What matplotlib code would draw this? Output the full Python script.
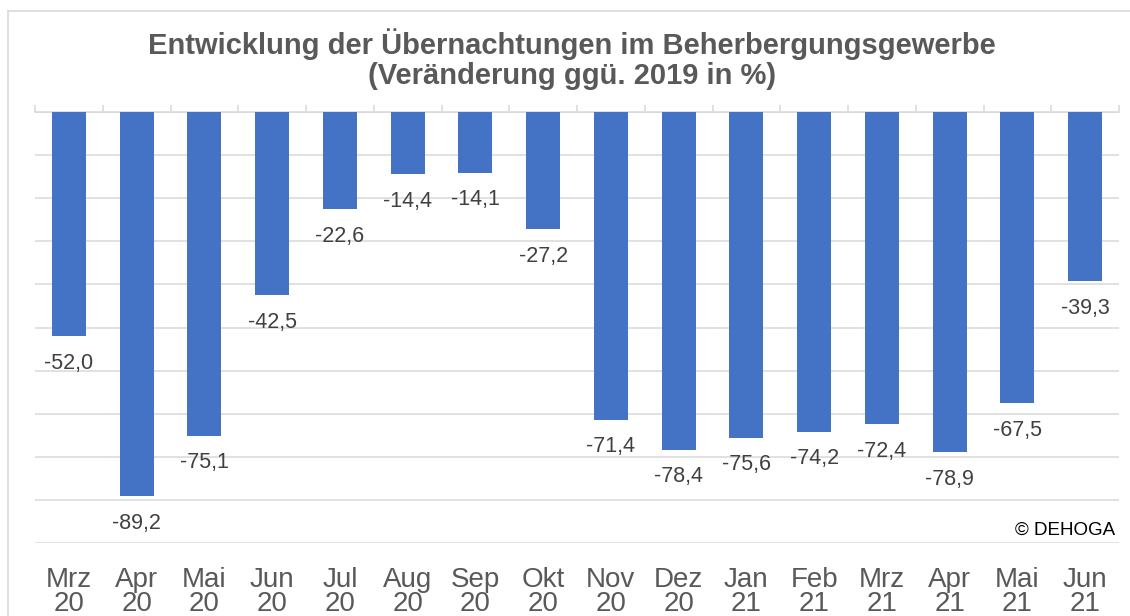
import numpy as np
import matplotlib
matplotlib.use("Agg")
import matplotlib.pyplot as plt
from matplotlib.lines import Line2D
from matplotlib.ticker import FixedLocator

plt.rcParams['font.family'] = ['Liberation Sans', 'DejaVu Sans']

# Monate und Veraenderung ggue. 2019 in %
months = ["Mrz\n20", "Apr\n20", "Mai\n20", "Jun\n20", "Jul\n20", "Aug\n20", "Sep\n20", "Okt\n20",
          "Nov\n20", "Dez\n20", "Jan\n21", "Feb\n21", "Mrz\n21", "Apr\n21", "Mai\n21", "Jun\n21"]
change = [-52.0, -89.2, -75.1, -42.5, -22.6, -14.4, -14.1, -27.2,
          -71.4, -78.4, -75.6, -74.2, -72.4, -78.9, -67.5, -39.3]

bar_color = "#4472C4"
grid_color = "#D9D9D9"

fig = plt.figure(figsize=(11.3, 6.16), dpi=100)
ax = fig.add_axes([35 / 1130, 1 - 543 / 616, (1119 - 35) / 1130, (543 - 112) / 616])

x = np.arange(len(months))
ax.bar(x, change, width=0.5, color=bar_color, zorder=3)

for xi, v in zip(x, change):
    ax.annotate(f"{v:.1f}".replace(".", ","), (xi, v), xytext=(0, -19.5),
                textcoords="offset points", ha="center", va="center",
                fontsize=15.5, color="#404040")

ax.set_xlim(-0.5, len(months) - 0.5)
ax.set_ylim(-100, 0)
ax.set_yticks(np.arange(-100, 1, 10))
ax.yaxis.grid(True, color=grid_color, linewidth=1.1, zorder=0)
ax.tick_params(axis="y", left=False, labelleft=False)

ax.set_xticks(x)
ax.set_xticklabels(months, fontsize=20, color="#595959", linespacing=0.9)
ax.tick_params(axis="x", which="major", bottom=False, top=False, pad=14)
ax.xaxis.set_minor_locator(FixedLocator(np.arange(-0.5, len(months), 1.0)))
ax.tick_params(axis="x", which="minor", bottom=False, top=True, direction="out",
               length=5, width=1.1, color=grid_color)

for side in ["left", "right", "bottom"]:
    ax.spines[side].set_visible(False)
ax.spines["top"].set_color(grid_color)
ax.spines["top"].set_linewidth(1.1)

ax.text(0.996, 0.030, "\u00a9 DEHOGA", transform=ax.transAxes, ha="right", va="center",
        fontsize=13.5, color="black")

fig.text(572 / 1130, 1 - 44 / 616, "Entwicklung der \u00dcbernachtungen im Beherbergungsgewerbe",
         ha="center", va="center", fontsize=21, fontweight="bold", color="#595959")
fig.text(572 / 1130, 1 - 76 / 616, "(Ver\u00e4nderung gg\u00fc. 2019 in %)",
         ha="center", va="center", fontsize=21, fontweight="bold", color="#595959")

# Rahmen des Diagramms (oben und links sichtbar)
fig.add_artist(Line2D([8 / 1130, 1], [1 - 11 / 616, 1 - 11 / 616], transform=fig.transFigure,
                      color=grid_color, linewidth=1.2))
fig.add_artist(Line2D([8 / 1130, 8 / 1130], [0, 1 - 11 / 616], transform=fig.transFigure,
                      color=grid_color, linewidth=1.2))

fig.savefig("out.png", dpi=100)
